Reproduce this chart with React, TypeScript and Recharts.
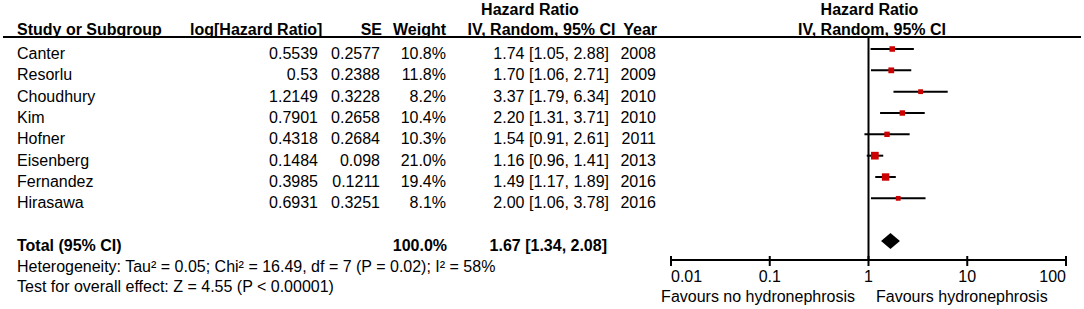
import React from 'react';
import {
  ComposedChart,
  XAxis,
  YAxis,
  Scatter,
  ErrorBar,
  ReferenceLine,
  Customized,
} from 'recharts';

// ---------- data ----------
const studies = ['Canter', 'Resorlu', 'Choudhury', 'Kim', 'Hofner', 'Eisenberg', 'Fernandez', 'Hirasawa'];
const logHR = [0.5539, 0.53, 1.2149, 0.7901, 0.4318, 0.1484, 0.3985, 0.6931];
const seValues = [0.2577, 0.2388, 0.3228, 0.2658, 0.2684, 0.098, 0.1211, 0.3251];
const weights = [10.8, 11.8, 8.2, 10.4, 10.3, 21.0, 19.4, 8.1];
const hrValues = [1.74, 1.70, 3.37, 2.20, 1.54, 1.16, 1.49, 2.00];
const ciLow = [1.05, 1.06, 1.79, 1.31, 0.91, 0.96, 1.17, 1.06];
const ciHigh = [2.88, 2.71, 6.34, 3.71, 2.61, 1.41, 1.89, 3.78];
const years = [2008, 2009, 2010, 2010, 2011, 2013, 2016, 2016];

const totalHR = 1.67;
const totalLow = 1.34;
const totalHigh = 2.08;
const totalWeight = 100.0;
const TOTAL_ROW = 9;

const xTicks = [0.01, 0.1, 1, 10, 100];
const xTickLabels = ['0.01', '0.1', '1', '10', '100'];

const heterogeneityText = 'Heterogeneity: Tau² = 0.05; Chi² = 16.49, df = 7 (P = 0.02); I² = 58%';
const overallText = 'Test for overall effect: Z = 4.55 (P < 0.00001)';
const favoursLeft = 'Favours no hydronephrosis';
const favoursRight = 'Favours hydronephrosis';

// ---------- derived tables for the library ----------
const rows = studies.map((name, i) => ({
  row: i,
  name,
  hr: hrValues[i],
  lo: ciLow[i],
  hi: ciHigh[i],
  weight: weights[i],
  err: [hrValues[i] - ciLow[i], ciHigh[i] - hrValues[i]],
}));
const totalRows = [{ row: TOTAL_ROW, hr: totalHR, lo: totalLow, hi: totalHigh, weight: totalWeight }];

const FONT = '"Liberation Sans", Arial, Helvetica, sans-serif';
const FS = 16;
const RED = '#cc0000';

const txt = (x: number, y: number, s: string, anchor: 'start' | 'middle' | 'end', bold = false, key?: string) => (
  <text
    key={key}
    x={x}
    y={y}
    textAnchor={anchor}
    fontFamily={FONT}
    fontSize={FS}
    fontWeight={bold ? 'bold' : 'normal'}
    fill="#000"
  >
    {s}
  </text>
);

const XTick = (props: any) => {
  const { x, y, index } = props;
  const anchor = index === 0 ? 'start' : index === xTicks.length - 1 ? 'end' : 'middle';
  return (
    <g>
      <line x1={x} x2={x} y1={y - 4} y2={y + 6} stroke="#000" strokeWidth={2} />
      {txt(x, y + 22, xTickLabels[index], anchor)}
    </g>
  );
};

// study marker + its table row (row text follows the y scale)
const StudyShape = (props: any) => {
  const { cx, cy, payload } = props;
  const i = payload.row as number;
  const s = 1.68 * Math.sqrt(payload.weight);
  const by = cy + 10;
  return (
    <g>
      {txt(17, by, studies[i], 'start')}
      {txt(318, by, String(logHR[i]), 'end')}
      {txt(380, by, String(seValues[i]), 'end')}
      {txt(446, by, weights[i].toFixed(1) + '%', 'end')}
      {txt(609, by, `${hrValues[i].toFixed(2)} [${ciLow[i].toFixed(2)}, ${ciHigh[i].toFixed(2)}]`, 'end')}
      {txt(656, by, String(years[i]), 'end')}
      <rect x={cx - s / 2} y={cy - s / 2} width={s} height={s} fill={RED} />
    </g>
  );
};

const TotalShape = (props: any) => {
  const { cy, payload } = props;
  const by = cy + 9.5;
  return (
    <g>
      {txt(17, by, 'Total (95% CI)', 'start', true)}
      {txt(447, by, payload.weight.toFixed(1) + '%', 'end', true)}
      {txt(607, by, `${payload.hr.toFixed(2)} [${payload.lo.toFixed(2)}, ${payload.hi.toFixed(2)}]`, 'end', true)}
    </g>
  );
};

const Diamond = (props: any) => {
  const { x1, x2, y1 } = props;
  const mid = (x1 + x2) / 2;
  const h = 8;
  return <polygon points={`${x1},${y1} ${mid},${y1 - h} ${x2},${y1} ${mid},${y1 + h}`} fill="#000" />;
};

const Headers = () => (
  <g>
    {txt(530, 15, 'Hazard Ratio', 'middle', true)}
    {txt(17, 35, 'Study or Subgroup', 'start', true)}
    {txt(190, 35, 'log[Hazard Ratio]', 'start', true)}
    {txt(382, 35, 'SE', 'end', true)}
    {txt(446, 35, 'Weight', 'end', true)}
    {txt(541.5, 35, 'IV, Random, 95% CI', 'middle', true)}
    {txt(657, 35, 'Year', 'end', true)}
    {txt(869.5, 15, 'Hazard Ratio', 'middle', true)}
    {txt(872, 35, 'IV, Random, 95% CI', 'middle', true)}
    <line x1={3} x2={1081} y1={37} y2={37} stroke="#000" strokeWidth={2} />
    {txt(17, 272, heterogeneityText, 'start')}
    {txt(17, 292, overallText, 'start')}
    {txt(855, 301.5, favoursLeft, 'end')}
    {txt(876, 301.5, favoursRight, 'start')}
  </g>
);

export default function App() {
  return (
    <div style={{ position: 'absolute', left: 0, top: 0, width: 1084, height: 309, background: '#fff' }}>
      <ComposedChart
        width={1084}
        height={309}
        data={rows}
        margin={{ top: 37, right: 18, bottom: 19, left: 671 }}
      >
        <XAxis
          dataKey="hr"
          type="number"
          scale="log"
          domain={[0.01, 100]}
          ticks={xTicks}
          interval={0}
          height={30}
          tickSize={0}
          tickMargin={0}
          tickLine={false}
          axisLine={{ stroke: '#000', strokeWidth: 2 }}
          tick={<XTick />}
        />
        <YAxis
          dataKey="row"
          type="number"
          domain={[-0.5625, 9.89]}
          reversed
          hide
          width={0}
        />
        <ReferenceLine x={1} stroke="#000" strokeWidth={2} ifOverflow="visible" />
        <ReferenceLine
          segment={[{ x: totalLow, y: TOTAL_ROW }, { x: totalHigh, y: TOTAL_ROW }]}
          ifOverflow="visible"
          shape={<Diamond />}
        />
        <Scatter data={rows} dataKey="hr" isAnimationActive={false} shape={<StudyShape />}>
          <ErrorBar dataKey="err" direction="x" width={0} stroke="#000" strokeWidth={2} isAnimationActive={false} />
        </Scatter>
        <Scatter data={totalRows} dataKey="hr" isAnimationActive={false} shape={<TotalShape />} />
        <Customized component={<Headers />} />
      </ComposedChart>
    </div>
  );
}
